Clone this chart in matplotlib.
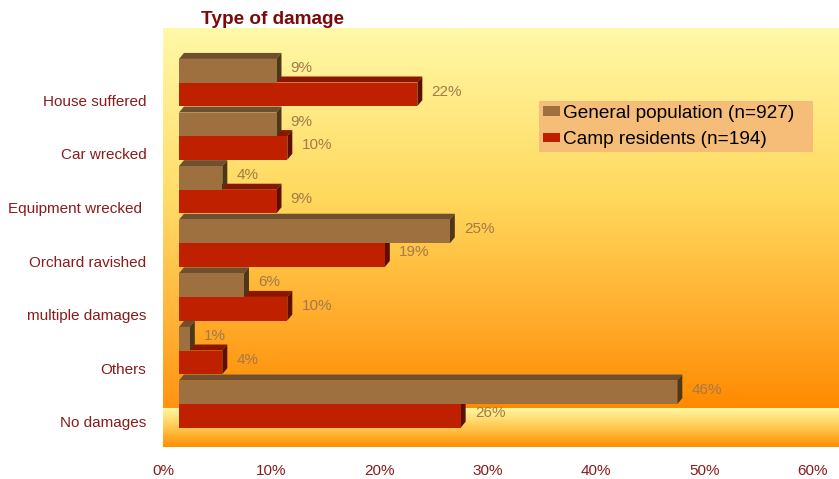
import numpy as np
import matplotlib
matplotlib.use('Agg')
import matplotlib.pyplot as plt
from matplotlib.patches import Rectangle, Polygon, Patch
from matplotlib.colors import LinearSegmentedColormap
from matplotlib.transforms import ScaledTranslation

plt.rcParams['font.family'] = ['Liberation Sans', 'DejaVu Sans']

categories = ['House suffered', 'Car wrecked', 'Equipment wrecked ', 'Orchard ravished',
              'multiple damages', 'Others', 'No damages']
general = [9, 9, 4, 25, 6, 1, 46]
camp = [22, 10, 9, 19, 10, 4, 26]
series_names = ['General population (n=927)', 'Camp residents (n=194)']
xticks = [0, 10, 20, 30, 40, 50, 60]

# face colours: front, top, side
brown = ('#9E7040', '#6E5030', '#4E3618')
red = ('#BE2000', '#8A1600', '#5C0E00')
txt_red = '#8B1A1A'
val_col = '#A37A48'

W, H = 839, 479
fig = plt.figure(figsize=(W / 100, H / 100), dpi=100)
ax = fig.add_axes([163 / W, 32 / H, 676 / W, 419 / H])
ax.set_xlim(0, 62.4)
ax.set_ylim(6.80, -1.017)

# back wall and floor gradients (row 0 = top)
wall = LinearSegmentedColormap.from_list('wall', [(0, '#FFF9A8'), (0.45, '#FFD85C'),
                                                  (0.78, '#FFAA2A'), (1, '#FF8A00')])
floor = LinearSegmentedColormap.from_list('floor', [(0, '#FFF8A0'), (0.5, '#FFC850'), (1, '#FF8E00')])
side = LinearSegmentedColormap.from_list('side', [(0, '#FFF9A8'), (0.45, '#FFDC68'),
                                                  (0.78, '#FFB236'), (1, '#FF9410')])
g = np.linspace(0, 1, 256).reshape(-1, 1)
fb = 39 / 419
ax.imshow(g, cmap=wall, aspect='auto', origin='upper', extent=(0, 1, fb, 1),
          transform=ax.transAxes, zorder=0)
ax.imshow(g, cmap=floor, aspect='auto', origin='upper', extent=(0, 1, 0, fb),
          transform=ax.transAxes, zorder=0)
ax.imshow(g, cmap=side, aspect='auto', origin='upper', extent=(0, 16 / 676, fb, 1),
          transform=ax.transAxes, zorder=0)

# bars sit 16px in front of the wall
tr = ax.transData + ScaledTranslation(16 / 100, 0, fig.dpi_scale_trans)
DX, DY = 0.46, 0.112
bh = 0.44


def bar3d(y, v, cols):
    y0, y1 = y - bh / 2, y + bh / 2
    ax.add_patch(Polygon([(0, y0), (DX, y0 - DY), (v + DX, y0 - DY), (v, y0)],
                         closed=True, fc=cols[1], ec='none', transform=tr, zorder=2))
    ax.add_patch(Polygon([(v, y0), (v + DX, y0 - DY), (v + DX, y1 - DY), (v, y1)],
                         closed=True, fc=cols[2], ec='none', transform=tr, zorder=2))
    ax.add_patch(Rectangle((0, y0), v, bh, fc=cols[0], ec='none', transform=tr, zorder=2))


for i in range(len(categories)):
    bar3d(i + bh / 2, camp[i], red)
    ax.text(camp[i] + 1.3, i + bh / 2 - 0.05, '%d%%' % camp[i], transform=tr,
            color=val_col, fontsize=11, va='center', ha='left', zorder=3)
    bar3d(i - bh / 2, general[i], brown)
    ax.text(general[i] + 1.3, i - bh / 2 - 0.05, '%d%%' % general[i], transform=tr,
            color=val_col, fontsize=11, va='center', ha='left', zorder=3)

ax.set_xticks(xticks)
ax.set_xticklabels(['%d%%' % t for t in xticks])
ax.set_yticks([i + 0.33 for i in range(len(categories))])
ax.set_yticklabels(categories)
ax.tick_params(axis='x', length=0, pad=12, labelsize=11, labelcolor=txt_red)
ax.tick_params(axis='y', length=0, pad=12, labelsize=11, labelcolor=txt_red)
for s in ax.spines.values():
    s.set_visible(False)

handles = [Patch(fc=brown[0]), Patch(fc=red[0])]
fig.legend(handles, series_names, loc='upper left',
           bbox_to_anchor=(539 / W, 1 - 153 / H, 274 / W, 52 / H), mode='expand',
           borderaxespad=0, fancybox=False, facecolor='#F5BD78', edgecolor='none', framealpha=1,
           fontsize=13.7, handlelength=0.9, handleheight=0.4, handletextpad=0.15,
           labelspacing=0.5, borderpad=0.2)

fig.text(201 / W, 1 - 19 / H, 'Type of damage', fontsize=13.7, fontweight='bold',
         color='#7B0A0A', va='center', ha='left')

fig.savefig('out.png', dpi=100)
